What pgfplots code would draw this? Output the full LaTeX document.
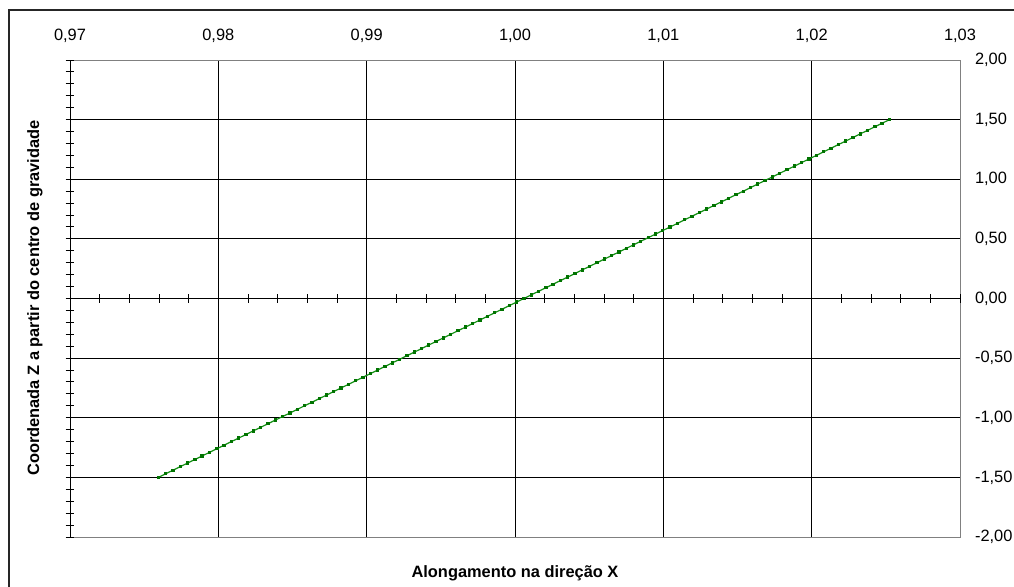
\documentclass[border=0pt]{standalone}
\usepackage{pgfplots}
\pgfplotsset{compat=1.18}
\usepackage{pgfplotstable}
\usepackage{fontspec}
\setmainfont{Liberation Sans}
\definecolor{serg}{RGB}{20,145,20}
\definecolor{serm}{RGB}{0,115,0}
\pgfplotstableread{
x z
0.97596 -1.50
0.97645 -1.47
0.97694 -1.44
0.97743 -1.41
0.97793 -1.38
0.97842 -1.35
0.97891 -1.32
0.97941 -1.29
0.97990 -1.26
0.98039 -1.23
0.98088 -1.20
0.98138 -1.17
0.98187 -1.14
0.98236 -1.11
0.98286 -1.08
0.98335 -1.05
0.98384 -1.02
0.98433 -0.99
0.98483 -0.96
0.98532 -0.93
0.98581 -0.90
0.98631 -0.87
0.98680 -0.84
0.98729 -0.81
0.98778 -0.78
0.98828 -0.75
0.98877 -0.72
0.98926 -0.69
0.98976 -0.66
0.99025 -0.63
0.99074 -0.60
0.99123 -0.57
0.99173 -0.54
0.99222 -0.51
0.99271 -0.48
0.99321 -0.45
0.99370 -0.42
0.99419 -0.39
0.99468 -0.36
0.99518 -0.33
0.99567 -0.30
0.99616 -0.27
0.99666 -0.24
0.99715 -0.21
0.99764 -0.18
0.99813 -0.15
0.99863 -0.12
0.99912 -0.09
0.99961 -0.06
1.00011 -0.03
1.00060 0.00
1.00109 0.03
1.00158 0.06
1.00208 0.09
1.00257 0.12
1.00306 0.15
1.00356 0.18
1.00405 0.21
1.00454 0.24
1.00503 0.27
1.00553 0.30
1.00602 0.33
1.00651 0.36
1.00701 0.39
1.00750 0.42
1.00799 0.45
1.00848 0.48
1.00898 0.51
1.00947 0.54
1.00996 0.57
1.01046 0.60
1.01095 0.63
1.01144 0.66
1.01193 0.69
1.01243 0.72
1.01292 0.75
1.01341 0.78
1.01391 0.81
1.01440 0.84
1.01489 0.87
1.01539 0.90
1.01588 0.93
1.01637 0.96
1.01686 0.99
1.01736 1.02
1.01785 1.05
1.01834 1.08
1.01884 1.11
1.01933 1.14
1.01982 1.17
1.02032 1.20
1.02081 1.23
1.02130 1.26
1.02179 1.29
1.02229 1.32
1.02278 1.35
1.02327 1.38
1.02377 1.41
1.02426 1.44
1.02475 1.47
1.02525 1.50
}\datatable
\begin{document}
\fontsize{12.3}{14}\selectfont
\begin{tikzpicture}[x=0.75pt,y=0.75pt]
\useasboundingbox (0,0) rectangle (1014,586);
% outer frame (left and top visible)
\draw[line width=1.3pt, black!85] (9,-5) -- (9,576) -- (1020,576);
\begin{axis}[
  at={(52.5pt,36.75pt)}, anchor=south west, scale only axis,
  width=667.5pt, height=357.75pt,
  xmin=0.97, xmax=1.03, ymin=-2, ymax=2, enlargelimits=false,
  xtick={0.97,0.98,0.99,1.00,1.01,1.02,1.03},
  ytick={-2,-1.5,-1,-0.5,0,0.5,1,1.5,2},
  xticklabel pos=upper, yticklabel pos=upper,
  grid=major, major grid style={black, line width=0.75pt},
  axis line style={gray, line width=0.75pt},
  major tick length=0pt, tick style={draw=none},
  tick label style={font=\fontsize{12.3}{14}\selectfont},
  xticklabel style={yshift=9pt},
  yticklabel style={xshift=7pt},
  /pgf/number format/use comma,
  /pgf/number format/fixed,
  /pgf/number format/fixed zerofill,
  /pgf/number format/precision=2,
  /pgf/number format/assume math mode=true,
]
\end{axis}
\begin{axis}[
  at={(52.5pt,36.75pt)}, anchor=south west, scale only axis,
  width=667.5pt, height=357.75pt,
  xmin=0.97, xmax=1.03, ymin=-2, ymax=2, enlargelimits=false,
  axis x line=middle, axis y line=left,
  axis line style={black, line width=0.75pt, -},
  every inner x axis line/.append style={-},
  every outer y axis line/.append style={-},
  xtick={0.97,0.98,0.99,1.00,1.01,1.02,1.03},
  ytick={-2,-1.5,-1,-0.5,0,0.5,1,1.5,2},
  minor x tick num=4, minor y tick num=4,
  tick align=center, major tick length=6.5pt, minor tick length=6.5pt,
  tick style={black, line width=0.75pt},
  xticklabels={}, yticklabels={},
]
\addplot[color=serg, line width=0.9pt, mark=square*, mark size=0.8pt,
  mark options={fill=serm, draw=serm}] table[x=x, y=z] {\datatable};
\end{axis}
\node[font=\bfseries\fontsize{12.3}{14}\selectfont, anchor=base] at (515,9) {Alongamento na direção X};
\node[font=\bfseries\fontsize{12.3}{14}\selectfont, rotate=90] at (35,288) {Coordenada Z a partir do centro de gravidade};
\end{tikzpicture}
\end{document}
